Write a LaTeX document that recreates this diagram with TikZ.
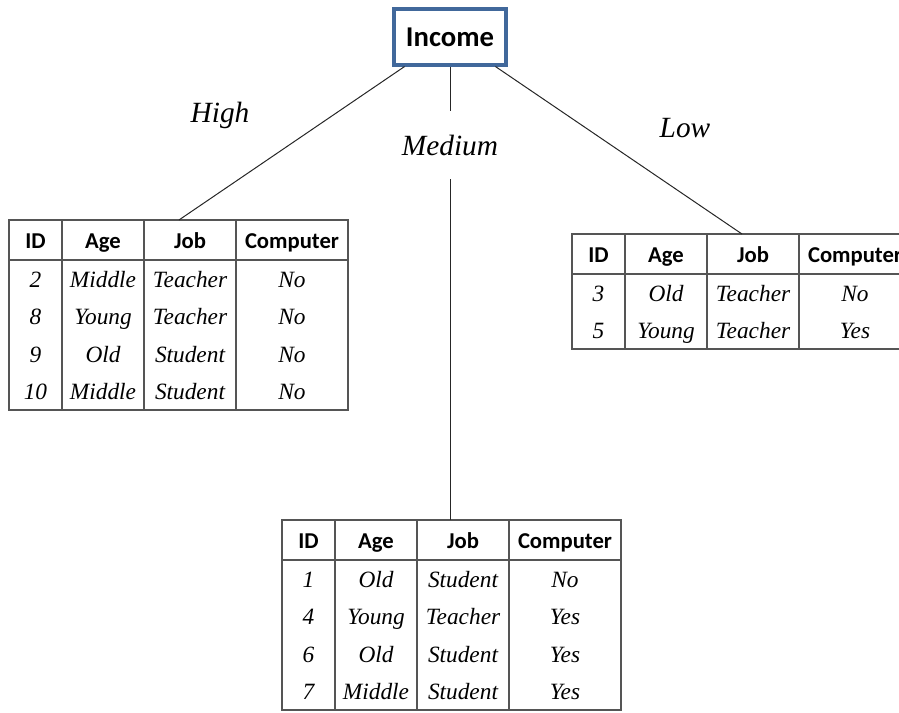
\documentclass[tikz,border=0pt]{standalone}
\usepackage{fontspec}
\setmainfont{Liberation Serif}
\newfontfamily\hdfont{Carlito}
\usetikzlibrary{calc}
\definecolor{boxblue}{RGB}{65,104,155}
\definecolor{tgray}{RGB}{85,85,85}
\tikzset{
  hcell/.style={inner sep=0pt, minimum height=30pt, text height=0.72em, text depth=0.22em, yshift=-3.5pt,
    font=\hdfont\bfseries\fontsize{17}{20}\selectfont},
  bcell/.style={inner sep=0pt, text height=0.68em, text depth=0.2em, yshift=-4pt,
    font=\itshape\fontsize{17.5}{20}\selectfont},
  tline/.style={draw=tgray, line width=1.1pt},
  conn/.style={draw=black!85, line width=0.75pt},
  branch/.style={inner sep=0pt, font=\itshape\fontsize{22}{26}\selectfont},
  rootbox/.style={draw=boxblue, line width=2.3pt, fill=white, minimum width=84pt, minimum height=42pt,
    inner sep=0pt, font=\hdfont\bfseries\fontsize{21.5}{25}\selectfont}
}
% #1 name, #2 left x, #3 top y, #4 rows, #5 number of rows
\newcommand\datatable[5]{%
  \coordinate (#1-top) at ({#2+135+0.38*92},{#3});
  \node[hcell, minimum width=39.75pt] (#1-1) at ({#2+26.5},{#3+20}) {ID};
  \node[hcell, minimum width=61.5pt] (#1-2) at ({#2+94},{#3+20}) {Age};
  \node[hcell, minimum width=69pt] (#1-3) at ({#2+181},{#3+20}) {Job};
  \node[hcell, minimum width=84pt] (#1-4) at ({#2+283},{#3+20}) {Computer};
  \foreach \ca/\cb/\cc/\cd [count=\i] in {#4} {
    \node[bcell] (#1-\i-a) at ({#2+26.5},{#3+40+(\i-0.5)*37.5}) {\ca};
    \node[bcell] (#1-\i-b) at ({#2+94},{#3+40+(\i-0.5)*37.5}) {\cb};
    \node[bcell] (#1-\i-c) at ({#2+181},{#3+40+(\i-0.5)*37.5}) {\cc};
    \node[bcell] (#1-\i-d) at ({#2+283},{#3+40+(\i-0.5)*37.5}) {\cd};
  }
  \draw[tline] ({#2},{#3}) rectangle ({#2+339},{#3+40+#5*37.5});
  \draw[tline] ({#2},{#3+40}) -- ({#2+339},{#3+40});
  \foreach \vx in {53,135,227}
    \draw[tline] ({#2+\vx},{#3}) -- ({#2+\vx},{#3+40+#5*37.5});
}
\begin{document}
\begin{tikzpicture}[x=0.75pt,y=-0.75pt]
\useasboundingbox (0,0) rectangle (899,713);
\clip (0,0) rectangle (899,713);

\node[rootbox] (inc) at (450,37) {Income};

\datatable{L}{9}{220}{2/Middle/Teacher/No, 8/Young/Teacher/No, 9/Old/Student/No, 10/Middle/Student/No}{4}
\datatable{R}{572}{234}{3/Old/Teacher/No, 5/Young/Teacher/Yes}{2}
\datatable{B}{282}{520}{1/Old/Student/No, 4/Young/Teacher/Yes, 6/Old/Student/Yes, 7/Middle/Student/Yes}{4}

\node[branch] (high) at (220,115) {High};
\node[branch, minimum height=51pt] (med) at (450,145) {Medium};
\node[branch] (low) at (685,128) {Low};

\draw[conn] ($(inc.south west)!0.105!(inc.south east)$) -- (L-top);
\draw[conn] ($(inc.south west)!0.895!(inc.south east)$) -- (R-top);
\draw[conn] (inc.south) -- (med.north);
\draw[conn] (med.south) -- (med.south |- B-top);
\end{tikzpicture}
\end{document}
